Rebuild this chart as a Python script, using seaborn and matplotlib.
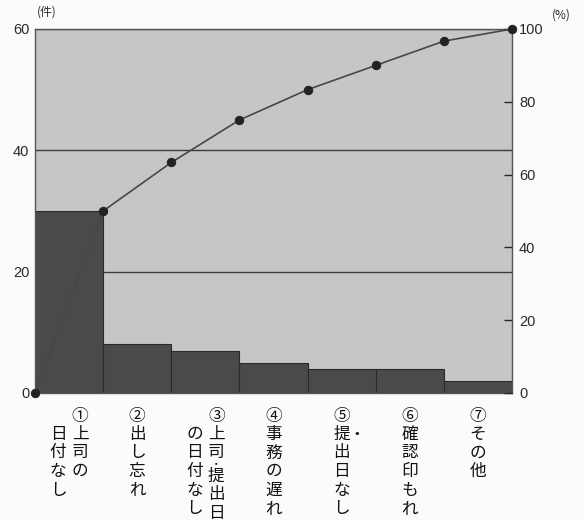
import matplotlib
matplotlib.use("Agg")
import matplotlib.pyplot as plt
import matplotlib.transforms as mtransforms
import seaborn as sns
import numpy as np

# 不備の内容（縦書き：列は右から左の順）
categories = ["①上司の日付なし", "②出し忘れ", "③上司・提出日の日付なし", "④事務の遅れ",
              "⑤提出日なし・", "⑥確認印もれ", "⑦その他"]
label_columns = [
    ["①上司の", "　日付なし"],
    ["②出し忘れ"],
    ["③上司・提出日", "　の日付なし"],
    ["④事務の遅れ"],
    ["　・", "⑤提出日なし"],
    ["⑥確認印もれ"],
    ["⑦その他"],
]
counts = [30, 8, 7, 5, 4, 4, 2]
left_ticks = [0, 20, 40, 60]
right_ticks = [0, 20, 40, 60, 80, 100]
left_unit = "(件)"
right_unit = "(%)"

sns.set_style("ticks")
plt.rcParams["font.family"] = ["Liberation Sans", "Noto Sans CJK JP", "DejaVu Sans"]
JP = ["Noto Sans CJK JP", "DejaVu Sans"]

BAR = "#4a4a4a"
PANEL = "#c6c6c6"
INK = "#2a2a2a"

fig = plt.figure(figsize=(5.83, 5.21), dpi=100, facecolor="#fbfbfb")
ax = fig.add_axes([35 / 583, 1 - 393 / 521, 477 / 583, 364 / 521])
ax.set_facecolor(PANEL)

sns.barplot(x=categories, y=counts, ax=ax, color=BAR, width=1.0, saturation=1,
            edgecolor="#2a2a2a", linewidth=0.8, zorder=2)
ax.set_xlim(-0.5, len(counts) - 0.5)
ax.set_ylim(0, left_ticks[-1])
ax.set_yticks(left_ticks)
ax.set_xticks([])
ax.set_xlabel("")
ax.set_ylabel("")
ax.set_axisbelow(True)
ax.yaxis.grid(True, color="#3c3c3c", linewidth=1.0)
ax.tick_params(axis="y", length=0, pad=4, labelsize=10.5, colors=INK)
for s in ax.spines.values():
    s.set_color("#555555")
    s.set_linewidth(1.0)

# 累積比率（折れ線）
ax2 = ax.twinx()
total = sum(counts)
cum_pct = np.concatenate([[0], np.cumsum(counts) / total * 100])
xs = np.arange(len(cum_pct)) - 0.5
sns.lineplot(x=xs, y=cum_pct, ax=ax2, color="#474747", linewidth=1.2, marker="o",
             markersize=6, markerfacecolor="#222222", markeredgecolor="#222222",
             clip_on=False, zorder=5)
ax2.set_ylim(0, right_ticks[-1])
ax2.set_yticks(right_ticks)
ax2.set_ylabel("")
ax2.tick_params(axis="y", direction="in", length=6, width=1, pad=5, labelsize=10.5,
                colors=INK)
for s in ax2.spines.values():
    s.set_visible(False)

fig.text(47 / 583, 1 - 12 / 521, left_unit, ha="center", va="center", fontsize=8.5,
         color=INK, family=JP)
fig.text(561 / 583, 1 - 15 / 521, right_unit, ha="center", va="center", fontsize=8.5,
         color=INK, family=JP)

# 縦書きラベル
trans = mtransforms.blended_transform_factory(ax.transData, ax.transAxes)
row0 = -23 / 364
step = 18.5 / 364
spacing = 0.32
for i, cols in enumerate(label_columns):
    main = [c for c in cols if c.strip("　・")]
    n = len(main)
    for col in cols:
        if col in main:
            off = ((n - 1) / 2 - main.index(col)) * spacing
        else:
            off = 0.7 * spacing
        y = 0.0
        prev = " "
        for ch in col:
            if ch == "・" and prev.strip("　 "):
                ax.text(i + off, row0 - (y - 0.375) * step, ch, transform=trans,
                        ha="center", va="center", fontsize=6, color="#111111",
                        family=JP, fontweight="bold")
                y += 0.25
            else:
                if ch.strip("　 "):
                    ax.text(i + off, row0 - y * step, ch, transform=trans,
                            ha="center", va="center", fontsize=12,
                            color="#111111", family=JP)
                y += 1
            prev = ch

fig.savefig("out.png", dpi=100, facecolor=fig.get_facecolor())
